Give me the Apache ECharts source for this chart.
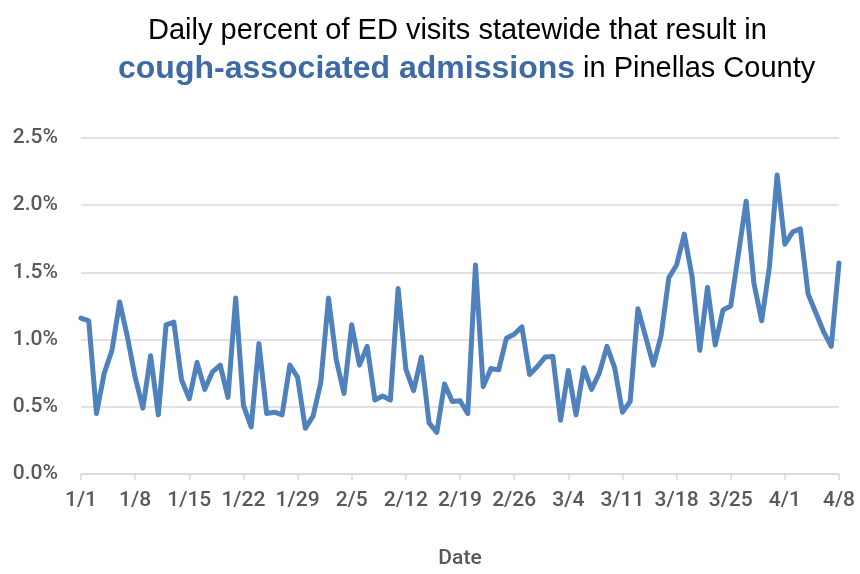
<!DOCTYPE html>
<html>
<head>
<meta charset="utf-8">
<script src="https://cdn.jsdelivr.net/npm/echarts@6/dist/echarts.min.js"></script>
<style>
html,body{margin:0;padding:0;background:#fff;}
#chart{width:860px;height:574px;}
</style>
</head>
<body>
<div id="chart"></div>
<script>
// Date range: 1/1 to 4/8 (2020, leap year)
const startYear = 2020;
const numDays = 99;
const categories = [];
for (let i = 0; i < numDays; i++) {
  const d = new Date(Date.UTC(startYear, 0, 1 + i));
  categories.push((d.getUTCMonth() + 1) + '/' + d.getUTCDate());
}

// Daily percent of ED visits resulting in cough-associated admissions (%)
const values = [
  1.16, 1.14, 0.45, 0.75, 0.92, 1.28, 1.02, 0.72, 0.49, 0.88,
  0.44, 1.11, 1.13, 0.70, 0.56, 0.83, 0.63, 0.76, 0.81, 0.57,
  1.31, 0.51, 0.35, 0.97, 0.45, 0.46, 0.44, 0.81, 0.72, 0.34,
  0.43, 0.68, 1.31, 0.85, 0.60, 1.11, 0.81, 0.95, 0.55, 0.58,
  0.55, 1.38, 0.78, 0.62, 0.87, 0.38, 0.31, 0.67, 0.54, 0.545,
  0.45, 1.555, 0.65, 0.785, 0.775, 1.01, 1.04, 1.095, 0.74, 0.80,
  0.87, 0.875, 0.40, 0.77, 0.44, 0.79, 0.63, 0.75, 0.95, 0.79,
  0.46, 0.54, 1.23, 1.02, 0.81, 1.03, 1.46, 1.555, 1.785, 1.47,
  0.92, 1.39, 0.96, 1.22, 1.25, 1.64, 2.03, 1.42, 1.14, 1.54,
  2.225, 1.71, 1.80, 1.825, 1.34, 1.20, 1.06, 0.95, 1.57
];

const titleLine1 = 'Daily percent of ED visits statewide that result in';
const titleBold = 'cough-associated admissions';
const titleRest = ' in Pinellas County';
const xAxisName = 'Date';

const yMin = 0, yMax = 2.5, yInterval = 0.5;

const axisFont = "Roboto, 'DejaVu Sans Condensed', sans-serif";
const titleFont = "'Liberation Sans', Arial, sans-serif";
const labelColor = '#595959';
const gridColor = '#d9d9d9';
const accentColor = '#3E6AA5';

const chart = echarts.init(document.getElementById('chart'), null, {renderer: 'canvas'});
chart.setOption({
  animation: false,
  backgroundColor: '#ffffff',
  graphic: [
    {
      type: 'text', left: 148, top: 16,
      style: {
        text: titleLine1,
        font: "29px " + titleFont,
        fill: '#000000'
      }
    },
    {
      type: 'text', left: 118, top: 53,
      style: {
        text: '{b|' + titleBold + '}{r|' + titleRest + '}',
        rich: {
          b: {fontFamily: titleFont, fontWeight: 'bold', fontSize: 32, fill: accentColor, color: accentColor},
          r: {fontFamily: titleFont, fontSize: 29, fill: '#000000', color: '#000000'}
        }
      }
    }
  ],
  grid: {left: 81, right: 21, top: 138, bottom: 100, containLabel: false, outerBoundsMode: 'none'},
  xAxis: {
    type: 'category',
    data: categories,
    boundaryGap: false,
    name: xAxisName,
    nameLocation: 'middle',
    nameGap: 74,
    nameTextStyle: {fontFamily: axisFont, fontWeight: 500, fontSize: 21, color: labelColor},
    axisLine: {show: true, lineStyle: {color: gridColor, width: 1.5}},
    axisTick: {show: true, interval: 6, length: 6, lineStyle: {color: gridColor, width: 1.5}},
    axisLabel: {interval: 6, margin: 16, fontFamily: axisFont, fontWeight: 500, fontSize: 21, color: labelColor},
    splitLine: {show: false}
  },
  yAxis: {
    type: 'value',
    min: yMin, max: yMax, interval: yInterval,
    axisLine: {show: false},
    axisTick: {show: false},
    axisLabel: {
      margin: 23, fontFamily: axisFont, fontWeight: 500, fontSize: 21, color: labelColor,
      formatter: v => v.toFixed(1) + '%'
    },
    splitLine: {show: true, lineStyle: {color: gridColor, width: 1.5}}
  },
  series: [{
    type: 'line',
    data: values,
    showSymbol: false,
    symbol: 'none',
    lineStyle: {color: '#4F81BD', width: 5, cap: 'round', join: 'round'},
    itemStyle: {color: '#4F81BD'}
  }]
});
</script>
</body>
</html>
